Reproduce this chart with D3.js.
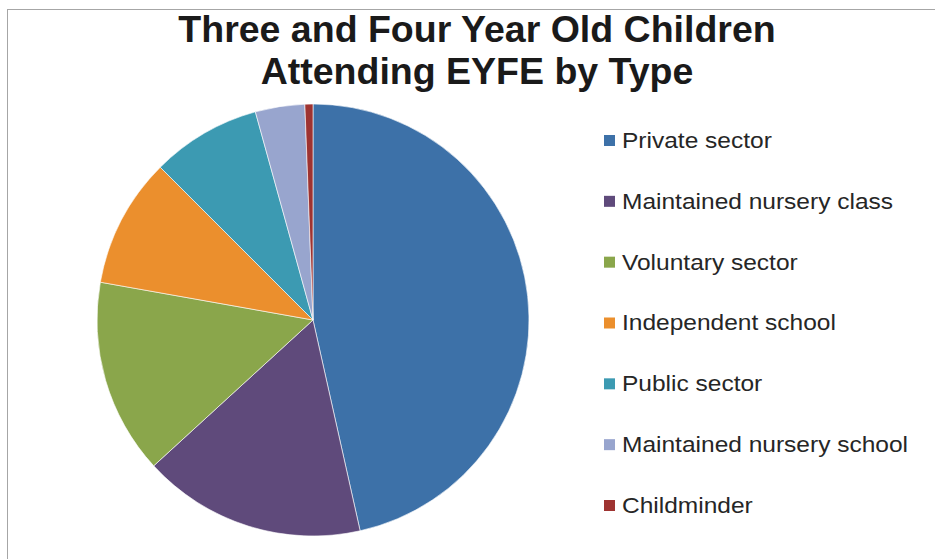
<!DOCTYPE html>
<html>
<head>
<meta charset="utf-8">
<script src="https://cdn.jsdelivr.net/npm/d3@7"></script>
<style>
  html, body { margin: 0; padding: 0; background: #fff; }
  svg { display: block; }
</style>
</head>
<body>
<svg id="chart" width="935" height="559"></svg>
<script>
// Share of three and four year olds attending EYFE, by provider type (%)
const categories = [
  "Private sector",
  "Maintained nursery class",
  "Voluntary sector",
  "Independent school",
  "Public sector",
  "Maintained nursery school",
  "Childminder"
];
const shares = [46.5, 16.7, 14.6, 9.7, 8.2, 3.7, 0.6];
const sliceColors = ["#3d71a8", "#5f4a7b", "#8aa64b", "#eb8f2d", "#3c9ab2", "#98a5ce", "#9e3331"];
const titleLines = ["Three and Four Year Old Children", "Attending EYFE by Type"];

const svg = d3.select("#chart");
const W = 935, H = 559;
const FONT = "'Liberation Sans', Arial, Helvetica, sans-serif";

// chart frame
svg.append("rect")
  .attr("x", 7.5).attr("y", 9.5)
  .attr("width", W).attr("height", H)
  .attr("fill", "#fff")
  .attr("stroke", "#a6a6a6")
  .attr("stroke-width", 1);

// title (slightly widened glyphs)
svg.append("g")
  .attr("transform", "translate(477,0) scale(1.042,1)")
  .append("text")
  .attr("text-anchor", "middle")
  .attr("font-family", FONT)
  .attr("font-weight", "bold")
  .attr("font-size", 36)
  .attr("fill", "#1a1a1a")
  .selectAll("tspan")
  .data(titleLines)
  .join("tspan")
  .attr("x", 0)
  .attr("y", (d, i) => 42 + i * 42)
  .text(d => d);

// pie
const cx = 313, cy = 320, R = 216;
const pie = d3.pie().sort(null).value(d => d.v);
const arc = d3.arc().innerRadius(0).outerRadius(R);
const data = categories.map((c, i) => ({ c, v: shares[i], col: sliceColors[i] }));

svg.append("g")
  .attr("transform", `translate(${cx},${cy})`)
  .selectAll("path")
  .data(pie(data))
  .join("path")
  .attr("d", arc)
  .attr("fill", d => d.data.col)
  .attr("stroke", "#fff")
  .attr("stroke-width", 0.6);

// legend
const legendY = d3.scalePoint().domain(categories).range([140, 505]);
const items = svg.append("g").selectAll("g")
  .data(data)
  .join("g")
  .attr("transform", d => `translate(604,${legendY(d.c)})`);
items.append("rect")
  .attr("x", 0).attr("y", -5)
  .attr("width", 11).attr("height", 11)
  .attr("fill", d => d.col);
items.append("text")
  .attr("transform", "translate(18,0) scale(1.09,1)")
  .attr("dy", "0.35em")
  .attr("font-family", FONT)
  .attr("font-size", 22.5)
  .attr("fill", "#262626")
  .text(d => d.c);
</script>
</body>
</html>
